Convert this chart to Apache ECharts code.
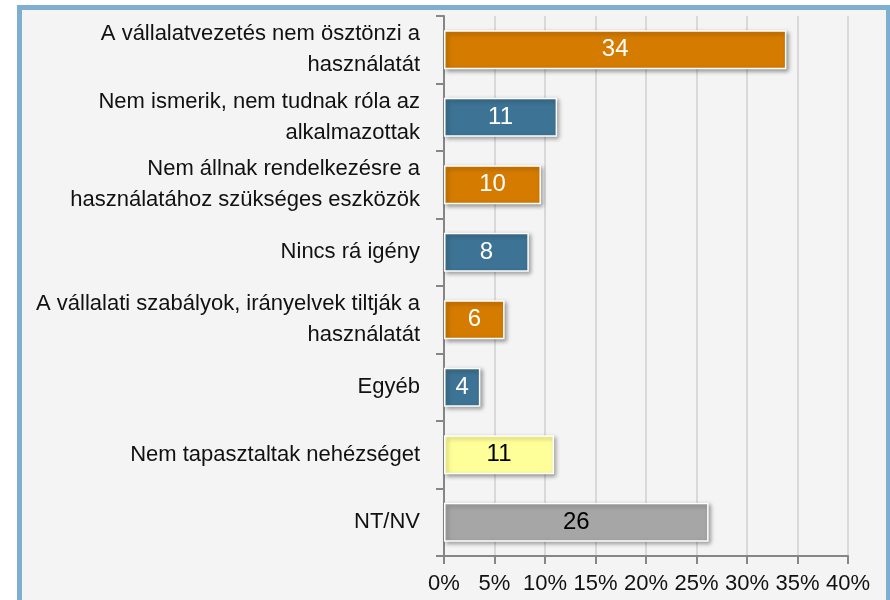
<!DOCTYPE html>
<html style="height: 100%;width:100%">
<head>
<meta charset="utf-8">
</head>
<body style="height: 100%; width:100%; margin:0">
<div id="chart-panel" style="height: 600px;width: 890px"></div>
<script type="text/javascript" src="https://cdn.jsdelivr.net/npm/echarts@6/dist/echarts.min.js"></script>
<script type="text/javascript">
// kategóriák (felülről lefelé)
var categories = [
    'A vállalatvezetés nem ösztönzi a\nhasználatát',
    'Nem ismerik, nem tudnak róla az\nalkalmazottak',
    'Nem állnak rendelkezésre a\nhasználatához szükséges eszközök',
    'Nincs rá igény',
    'A vállalati szabályok, irányelvek tiltják a\nhasználatát',
    'Egyéb',
    'Nem tapasztaltak nehézséget',
    'NT/NV'
];
// százalékos értékek
var values = [33.9, 11.2, 9.6, 8.4, 6.0, 3.6, 10.9, 26.2];
var barColors = ['#D47B00', '#3D7394', '#D47B00', '#3D7394', '#D47B00', '#3D7394', '#FFFF99', '#A6A6A6'];
var labelColors = ['#fff', '#fff', '#fff', '#fff', '#fff', '#fff', '#000', '#000'];

var dom = document.getElementById('chart-panel');
var myChart = echarts.init(dom);

var seriesData = [];
for (var i = 0; i < values.length; i++) {
    seriesData.push({
        value: values[i],
        itemStyle: { color: barColors[i] },
        label: { color: labelColors[i] }
    });
}

var option = {
    backgroundColor: '#fff',
    animation: false,
    textStyle: { fontFamily: 'Liberation Sans, Arial, sans-serif' },
    graphic: [{
        type: 'rect',
        z: -10,
        shape: { x: 19.5, y: 7.5, width: 869, height: 700 },
        style: { fill: '#F4F4F4', stroke: '#7EAED0', lineWidth: 5 }
    }],
    grid: {
        left: 444,
        right: 42,
        top: 16,
        bottom: 44
    },
    xAxis: {
        type: 'value',
        min: 0,
        max: 40,
        interval: 5,
        axisLine: { show: true, lineStyle: { color: '#868686', width: 2 } },
        axisTick: { show: true, length: 8, lineStyle: { color: '#868686', width: 2 } },
        splitLine: { show: true, lineStyle: { color: '#D9D9D9', width: 2 } },
        axisLabel: {
            margin: 17,
            fontSize: 22,
            color: '#111',
            formatter: '{value}%'
        }
    },
    yAxis: {
        type: 'category',
        inverse: true,
        data: categories,
        axisLine: { show: true, lineStyle: { color: '#868686', width: 2 } },
        axisTick: { show: true, length: 8, lineStyle: { color: '#868686', width: 2 } },
        axisLabel: {
            margin: 24,
            fontSize: 22,
            lineHeight: 31,
            color: '#111',
            align: 'right'
        }
    },
    series: [{
        type: 'bar',
        data: seriesData,
        barCategoryGap: '42%',
        itemStyle: {
            borderColor: '#fff',
            borderWidth: 1.5,
            shadowColor: 'rgba(0,0,0,0.35)',
            shadowBlur: 4,
            shadowOffsetX: 2,
            shadowOffsetY: 2
        },
        label: {
            show: true,
            position: 'inside',
            fontSize: 24,
            formatter: function (p) { return Math.round(p.value); }
        }
    }]
};

myChart.setOption(option);
</script>
</body>
</html>
